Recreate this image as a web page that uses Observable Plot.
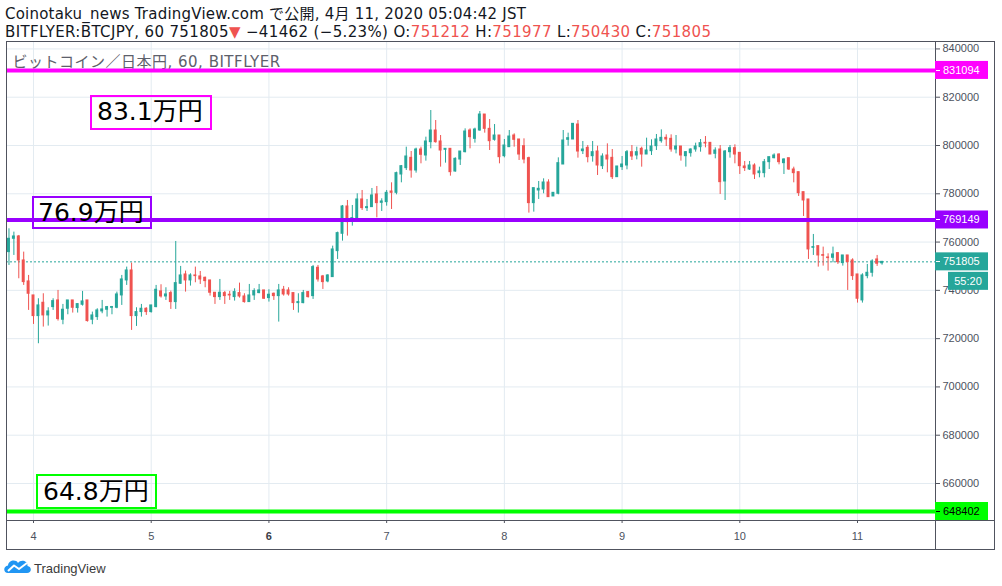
<!DOCTYPE html>
<html><head><meta charset="utf-8">
<script src="https://cdn.jsdelivr.net/npm/d3@7"></script>
<script src="https://cdn.jsdelivr.net/npm/@observablehq/plot@0.6"></script>
<style>
body{margin:0;background:#fff;width:1002px;height:586px;overflow:hidden;position:relative;font-family:"Liberation Sans",Arial,"Noto Sans CJK JP",sans-serif;}
#hdr{position:absolute;left:0;top:0;}
#chart{position:absolute;left:0;top:41px;}
#foot{position:absolute;left:0;top:549px;}
</style></head>
<body>
<svg id="hdr" width="1002" height="41" font-family="DejaVu Sans, Noto Sans CJK JP, sans-serif" font-size="15">
<text x="5" y="19" fill="#131722" letter-spacing="0.22">Coinotaku_news TradingView.com で公開, 4月 11, 2020 05:04:42 JST</text>
<text x="5" y="37" fill="#131722" letter-spacing="0.36">BITFLYER:BTCJPY, 60 751805<tspan fill="#ef5350">▼</tspan> −41462 (−5.23%) O:<tspan fill="#ef5350">751212</tspan> H:<tspan fill="#ef5350">751977</tspan> L:<tspan fill="#ef5350">750430</tspan> C:<tspan fill="#ef5350">751805</tspan></text>
</svg>
<div id="chart"></div>
<svg id="foot" width="1002" height="37">
<path d="M8 24 C3 24 3 17 8 16.5 C8.5 11 16 10 18 14 C21 10 28 12 27.5 17 C32 17.5 32 24 27 24 Z" fill="#2196f3"/>
<polyline points="8,22 14,16.5 19,20 27,14" stroke="#fff" stroke-width="2" fill="none" stroke-linejoin="round"/>
<text x="34" y="24" font-size="13" fill="#3b3b3b" font-family="Liberation Sans, Arial, sans-serif">TradingView</text>
</svg>
<script>
const opens = [
755840,761360,762330,752390,743700,737900,729340,734860,729620,733070,
735830,727830,732380,735830,732660,734030,735830,727830,728930,731280,
731970,732790,732790,737900,744110,748250,729340,731000,732380,731000,
733070,739560,737480,738870,735140,742730,746590,744110,746180,745770,
745210,744110,739010,737210,738870,738180,737210,738870,737480,735140,
737900,738870,739970,736800,738590,737620,740250,739970,738870,734720,
734720,739280,737620,749350,745770,743690,745490,756250,763430,774750,
768680,769360,777650,774060,774470,779720,776260,776540,780950,780400,
787990,790620,794890,789650,798340,795860,801380,806210,801660,798200,
798620,789230,794200,797240,806210,802760,806210,812830,806900,802350,
804140,795580,799310,804140,802490,799720,794760,776130,781370,781780,
784680,778890,780000,792130,802350,802490,808690,797650,799030,795580,
797510,791440,795860,794890,786890,791030,791720,797240,795860,798620,
796270,797650,799720,801790,803170,802760,798340,799590,795580,796820,
798340,799310,801100,801100,796550,798340,785100,797240,798900,796960,
791310,790060,791720,788550,788550,793100,794750,796270,792690,794750,
790060,788960,780680,777650,757630,758320,754600,753630,753490,755430,
751290,754460,752390,746590,735830,745900,747280,752800,751212];
const highs = [
765500,764120,762740,755840,746180,737900,736520,738590,732790,736520,
739970,734170,735830,735830,734450,739560,735830,731000,732380,735830,
733340,733340,739280,746180,749630,751290,732790,734170,732790,733760,
742040,742320,741080,739690,760250,749910,747970,746870,749630,747830,
745490,744110,739010,744520,739560,739560,740660,743000,738590,742450,
740660,742450,739970,740250,738870,742450,741630,741080,738870,738590,
739970,739560,750320,750320,746180,746460,758320,764120,775160,777230,
775160,779990,781370,777650,782200,783020,777920,781370,784540,788960,
791720,799310,797510,798900,799310,803450,814490,810350,804140,798620,
798620,794890,797510,806900,806900,807180,814080,812830,810760,808690,
804140,802490,806210,804830,802490,802760,795170,782340,785100,786200,
785790,780400,794890,806210,805110,808970,810350,801660,800000,801660,
799720,796540,800690,798340,791310,795450,797930,800000,799310,799310,
803040,802350,804560,806480,804420,804420,804140,799590,797510,798620,
800970,802490,803720,801100,799030,800000,797930,800000,800280,796960,
793380,793380,792410,791030,794210,795170,796550,796550,794480,794750,
791030,788960,780680,777650,763150,758320,757910,755150,757910,755560,
754460,754460,753080,746590,746870,750740,752670,754460,751977];
const lows = [
750320,754460,744800,742040,731690,725890,717890,724790,725200,731690,
727280,725750,729890,730590,730590,733480,726860,725750,727550,730310,
728930,729890,732380,733760,742040,723410,725060,728930,729620,730590,
732790,736800,735830,732100,732100,742450,739280,741770,743140,742450,
741080,737620,734170,735830,734170,735830,735550,736800,734720,735140,
735830,738590,736250,735140,735830,726860,737620,737620,731690,730590,
734450,736800,736250,743420,740380,743140,745490,752800,760390,762460,
766600,769360,773090,772670,774470,770050,772670,774880,773500,779580,
784540,789650,786480,788550,792410,793520,798620,800970,791030,792690,
787300,788960,791720,796960,798620,800970,805930,805110,797930,801790,
792410,794890,799310,799310,793790,792410,771990,772400,777650,780000,
778610,778890,779580,792130,799720,802490,794760,796270,792820,793100,
787580,790060,788690,785920,786890,789650,789930,793790,794060,791030,
796270,795860,797930,800970,799590,797240,796540,793520,791030,795170,
797240,797240,799030,796270,794480,779720,777230,794760,792410,788000,
789240,789650,785920,786610,786610,790060,794480,791990,787990,789650,
784540,778890,770610,752800,754460,749630,750040,747970,751420,750740,
750040,739970,744110,734720,734720,744800,745490,749910,750430];
const closes = [
761360,762330,752390,743420,738590,729340,733760,729620,731280,735550,
728100,731970,735830,732790,734310,735410,727280,729620,731690,732100,
733070,733070,738310,744520,748250,729340,731000,732380,731000,733760,
740250,737480,738310,735140,743000,746180,744110,746180,745900,744520,
743830,739010,737210,739010,737620,737900,739280,737480,735140,737900,
739690,739970,736520,738180,737620,739970,738310,738310,734720,735140,
738870,737210,749630,744520,743420,746180,756940,763710,774750,768260,
769920,777650,774060,774470,779300,776130,776810,780400,780400,788550,
791440,795450,789650,798340,796140,801660,806210,801380,797930,798620,
788960,794480,797510,805790,803450,806620,812830,806900,801790,804140,
795170,800000,803720,802350,796270,794200,776130,782340,782060,784680,
778610,780400,792690,802070,803040,808970,797510,798340,795170,797240,
791720,795450,794200,786890,791310,792130,797240,795450,797240,796270,
797930,799590,802490,803170,802490,798340,799590,795860,797240,798340,
799590,800970,800830,796270,797930,784820,797510,798900,796270,791440,
790620,791720,788000,789240,793100,795170,795860,793100,794210,790060,
788550,780270,777230,756950,757910,754460,754320,753360,754870,751700,
754460,751700,745900,736520,746180,747280,751980,751010,751805];

const firstCandle = Date.UTC(2020, 3, 3, 19);   // JST times stored as UTC
const hour = 3600e3;
const priceTicks = [660000, 680000, 700000, 720000, 740000, 760000, 780000, 800000, 820000, 840000];
const dayLabels = [4, 5, 6, 7, 8, 9, 10, 11];
const levelValues = [831094, 769149, 648402];
const levelColors = ["#ff00ff", "#9900ff", "#00ff00"];
const levelTextColors = ["#ffffff", "#ffffff", "#000000"];
const levelNotes = ["83.1万円", "76.9万円", "64.8万円"];
const lastPrice = 751805;
const countdown = "55:20";
const watermark = "ビットコイン／日本円, 60, BITFLYER";

const UP = "#26a69a", DOWN = "#ef5350", GRID = "#e3ebf1", AXIS = "#50535e", TXT = "#4c525e";

const candles = opens.map((o, i) => ({
  t: new Date(firstCandle + i * hour), open: o, high: highs[i], low: lows[i], close: closes[i]
}));
const dayTicks = dayLabels.map(d => new Date(Date.UTC(2020, 3, d)));
const levels = levelValues.map((v, i) => ({value: v, color: levelColors[i], text: levelTextColors[i], note: levelNotes[i]}));
const col = d => d.close >= d.open ? UP : DOWN;

const chart = Plot.plot({
  width: 1002, height: 509,
  marginLeft: 6, marginRight: 67, marginTop: 0, marginBottom: 30,
  x: {type: "utc", domain: [new Date(Date.UTC(2020, 3, 3, 18, 29, 42)), new Date(Date.UTC(2020, 3, 11, 15, 54))]},
  y: {domain: [644675, 843077]},
  color: {type: "identity"},
  style: {fontFamily: "Liberation Sans, Arial, sans-serif", fontSize: "11px", color: TXT, background: "transparent"},
  marks: [
    Plot.gridY(priceTicks, {stroke: GRID, strokeOpacity: 1}),
    Plot.gridX(dayTicks, {stroke: GRID, strokeOpacity: 1}),
    Plot.text([watermark], {frameAnchor: "top-left", dx: 6, dy: 21, textAnchor: "start", lineAnchor: "middle", fontSize: 15, fontFamily: "DejaVu Sans, Noto Sans CJK JP, sans-serif", fill: "#5d606b"}),
    Plot.ruleY([lastPrice], {stroke: UP, strokeDasharray: "2,2", strokeWidth: 1}),
    Plot.ruleX(candles, {x: "t", y1: "low", y2: "high", stroke: col, strokeWidth: 1}),
    Plot.rect(candles, {
      x1: d => new Date(+d.t - 0.3 * hour), x2: d => new Date(+d.t + 0.3 * hour),
      y1: d => Math.min(d.open, d.close), y2: d => Math.max(d.open, d.close),
      fill: col, insetTop: -0.5, insetBottom: -0.5
    }),
    Plot.ruleY(levels, {y: "value", stroke: "color", strokeWidth: 4}),
    Plot.axisY(priceTicks, {anchor: "right", tickSize: 4, tickPadding: 3, tickFormat: d => String(d), stroke: AXIS, fill: TXT, fontSize: 11, label: null}),
    Plot.axisX(dayTicks, {anchor: "bottom", tickSize: 3, tickPadding: 9, tickFormat: d => String(d.getUTCDate()), stroke: AXIS, fill: TXT, fontSize: 11, label: null})
  ]
});
document.getElementById("chart").appendChild(chart);

const svg = d3.select(chart);
const ys = chart.scale("y");
const H = 509, R = 935, B = 479;

// watermark letter spacing
svg.selectAll("text").filter(function () { return this.textContent === watermark; }).attr("letter-spacing", "0.5");
// bold Monday label
svg.selectAll("text").filter(function () { return this.textContent === "6"; }).attr("font-weight", "bold").attr("fill", "#3a3d46");

// frame
const fg = svg.append("g").attr("stroke", AXIS).attr("fill", "none");
fg.append("rect").attr("x", 6.5).attr("y", 0.5).attr("width", 988).attr("height", 508);
fg.append("line").attr("x1", R + 0.5).attr("x2", R + 0.5).attr("y1", 0).attr("y2", H);
fg.append("line").attr("x1", 6).attr("x2", 995).attr("y1", B + 0.5).attr("y2", B + 0.5);

// annotation boxes
const notes = [
  {lv: levels[0], x: 91, y: 55, w: 120, h: 33, tx: 97, ty: 79},
  {lv: levels[1], x: 33, y: 156, w: 118, h: 31, tx: 38, ty: 180},
  {lv: levels[2], x: 37, y: 434, w: 119, h: 33, tx: 43, ty: 459}
];
const ng = svg.append("g").attr("text-anchor", "start");
for (const n of notes) {
  ng.append("rect").attr("x", n.x).attr("y", n.y).attr("width", n.w).attr("height", n.h)
    .attr("fill", "none").attr("stroke", n.lv.color).attr("stroke-width", 2);
  ng.append("text").attr("x", n.tx).attr("y", n.ty).attr("font-size", 25).attr("text-anchor", "start")
    .attr("font-family", "DejaVu Sans, Noto Sans CJK JP, sans-serif").attr("fill", "#000").text(n.lv.note);
}

// price labels on axis
const lg = svg.append("g").attr("font-size", 11).attr("text-anchor", "start").attr("font-family", "Liberation Sans, Arial, sans-serif");
const tags = levels.map(l => ({value: l.value, color: l.color, text: l.text})).concat([{value: lastPrice, color: UP, text: "#fff"}]);
for (const t of tags) {
  const yy = ys.apply(t.value);
  lg.append("rect").attr("x", R).attr("y", yy - 9).attr("width", 53).attr("height", 18).attr("fill", t.color);
  lg.append("line").attr("x1", R + 1).attr("x2", R + 5).attr("y1", Math.round(yy) + 0.5).attr("y2", Math.round(yy) + 0.5).attr("stroke", t.text);
  lg.append("text").attr("x", R + 8).attr("y", yy).attr("dy", "0.35em").attr("text-anchor", "start").attr("fill", t.text).text(String(t.value));
}
const ly = ys.apply(lastPrice);
lg.append("rect").attr("x", 948).attr("y", ly + 10.5).attr("width", 40).attr("height", 18).attr("fill", UP);
lg.append("text").attr("x", 968).attr("y", ly + 19.5).attr("dy", "0.35em").attr("text-anchor", "middle").attr("fill", "#fff").text(countdown);
</script>
</body></html>
